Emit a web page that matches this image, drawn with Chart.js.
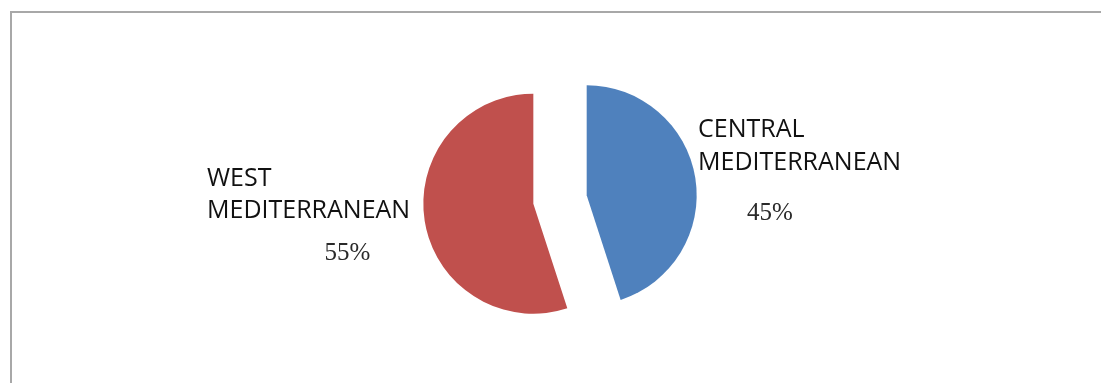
<!DOCTYPE html>
<html>
<head>
<meta charset="utf-8">
<script src="https://cdn.jsdelivr.net/npm/chart.js@4.4.0/dist/chart.umd.min.js"></script>
<style>
  html, body { margin: 0; background: #fff; overflow: hidden; }
  #wrap { position: relative; width: 1101px; height: 383px; }
  #frame {
    position: absolute; left: 10px; top: 11px; right: -10px; bottom: -10px;
    border-left: 2px solid #a8a8a8; border-top: 2px solid #a8a8a8;
  }
  canvas { position: absolute; left: 0; top: 0; }
</style>
</head>
<body>
<div id="wrap">
  <div id="frame"></div>
  <canvas id="regionChart" width="1101" height="383"></canvas>
</div>
<script>
// Share of arrivals by route
const regions = ['CENTRAL MEDITERRANEAN', 'WEST MEDITERRANEAN'];
const regionLines = [['CENTRAL', 'MEDITERRANEAN'], ['WEST', 'MEDITERRANEAN']];
const shares = [45, 55];
const sliceColors = ['#4f81bd', '#c0504d'];

// label placement, offsets from the pie centre
const labelLayout = [
  { nameX: 138, nameY: [-62.5, -29.5], pctX: 210, pctY: 20.5 },
  { nameX: -353, nameY: [-13.5, 18.5], pctX: -212.5, pctY: 60.5 }
];

// pull every slice straight out along its bisector
const explodeSlices = {
  id: 'explodeSlices',
  beforeDatasetDraw(chart, args, opts) {
    const ctx = chart.ctx;
    args.meta.data.forEach(arc => {
      const mid = (arc.startAngle + arc.endAngle) / 2;
      ctx.save();
      ctx.translate(Math.cos(mid) * opts.distance, Math.sin(mid) * opts.distance);
      arc.draw(ctx);
      ctx.restore();
    });
    return false;
  }
};

const sliceLabels = {
  id: 'sliceLabels',
  afterDatasetsDraw(chart) {
    const ctx = chart.ctx;
    const arc0 = chart.getDatasetMeta(0).data[0];
    const cx = arc0.x, cy = arc0.y;
    ctx.save();
    ctx.textBaseline = 'alphabetic';
    regionLines.forEach((lines, i) => {
      const l = labelLayout[i];
      ctx.fillStyle = '#111111';
      ctx.font = '25px "Open Sans"';
      ctx.textAlign = 'left';
      lines.forEach((txt, j) => ctx.fillText(txt, cx + l.nameX, cy + l.nameY[j]));
      ctx.fillStyle = '#2a2a2a';
      ctx.font = '25px "Liberation Serif"';
      ctx.textAlign = 'center';
      ctx.fillText(shares[i] + '%', cx + l.pctX, cy + l.pctY);
    });
    ctx.restore();
  }
};

new Chart(document.getElementById('regionChart'), {
  type: 'pie',
  data: {
    labels: regions,
    datasets: [{
      data: shares,
      backgroundColor: sliceColors,
      borderWidth: 0
    }]
  },
  options: {
    responsive: false,
    animation: false,
    radius: 110,
    layout: { padding: { left: 19, top: 16 } },
    plugins: {
      legend: { display: false },
      tooltip: { enabled: false },
      explodeSlices: { distance: 27 }
    }
  },
  plugins: [explodeSlices, sliceLabels]
});
</script>
</body>
</html>
